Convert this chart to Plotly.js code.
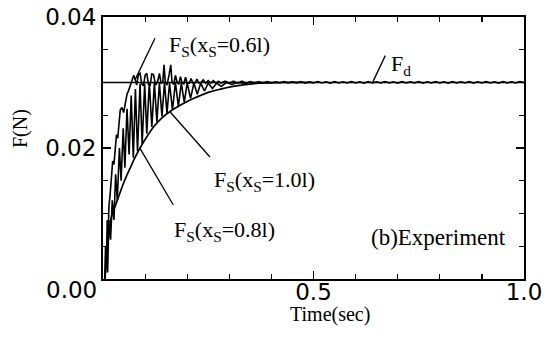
<!DOCTYPE html>
<html>
<head>
<meta charset="utf-8">
<script src="https://cdn.plot.ly/plotly-3.0.1.min.js"></script>
<style>html,body{margin:0;padding:0;background:#fff;}#chart{width:546px;height:338px;}</style>
</head>
<body>
<div id="chart"></div>
<script>
// Desired force F_d
const timeFd = [0, 1.0];
const forceFd = [0.03, 0.03];

// F_S(x_S = 1.0 l)
const time10 = [0.005,0.008,0.012,0.017,0.022,0.028,0.035,0.040,0.048,0.055,0.065,0.075,0.088,0.10,0.12,0.14,0.16,0.18,0.20,0.22,0.25,0.28,0.30,0.33,0.37,0.42,0.50];
const force10 = [0.0005,0.003,0.006,0.0085,0.0100,0.0110,0.0122,0.0131,0.0145,0.0156,0.0170,0.0184,0.0200,0.0213,0.0232,0.0246,0.0256,0.0264,0.0271,0.0277,0.0285,0.0290,0.0293,0.0296,0.0299,0.0300,0.0300];

// F_S(x_S = 0.8 l)
const time08 = [0.005,0.008,0.011,0.014,0.018,0.022,0.026,0.030,0.034,0.039,0.043,0.048,0.052,0.057,0.062,0.067,0.072,0.077,0.082,0.088,0.093,0.099,0.104,0.110,0.116,0.122,0.128,0.134,0.140,0.146,0.152,0.158,0.165,0.172,0.179,0.186,0.193,0.200,0.208,0.216,0.224,0.232,0.241,0.250,0.260,0.270,0.281,0.293,0.306,0.320,0.335,0.350,0.400];
const force08 = [0.000,0.004,0.001,0.009,0.006,0.012,0.009,0.016,0.012,0.020,0.015,0.023,0.017,0.026,0.019,0.028,0.0185,0.029,0.0195,0.0298,0.0205,0.0298,0.0222,0.0300,0.0232,0.0299,0.0240,0.0299,0.0248,0.0300,0.0253,0.0299,0.0258,0.0300,0.0264,0.0299,0.0270,0.0299,0.0276,0.0299,0.0282,0.0299,0.0287,0.0299,0.0291,0.0299,0.0294,0.0300,0.0297,0.0300,0.0299,0.0300,0.0300];

// F_S(x_S = 0.6 l)
const time06 = [0.004,0.006,0.008,0.010,0.012,0.014,0.017,0.020,0.023,0.026,0.029,0.032,0.035,0.038,0.041,0.045,0.049,0.053,0.057,0.061,0.065,0.069,0.073,0.077,0.080,0.084,0.088,0.092,0.096,0.100,0.104,0.108,0.112,0.116,0.120,0.125,0.130,0.134,0.138,0.142,0.145,0.148,0.152,0.157,0.161,0.164,0.168,0.172,0.176,0.180,0.184,0.188,0.192,0.196,0.200,0.205,0.209,0.214,0.219,0.223,0.228,0.233,0.238,0.244,0.250,0.256,0.262,0.268,0.274,0.280,
  0.29,0.30,0.31,0.32,0.33,0.34,0.35,0.36,0.37,0.38,0.39,0.40,0.41,0.42,0.43,0.44,0.45,0.46,0.47,0.48,0.49,0.50,0.51,0.52,0.53,0.54,0.55,0.56,0.57,0.58,0.59,0.60,0.61,0.62,0.63,0.64,0.65,0.66,0.67,0.68,0.69,0.70,0.71,0.72,0.73,0.74,0.75,0.76,0.77,0.78,0.79,0.80,0.81,0.82,0.83,0.84,0.85,0.86,0.87,0.88,0.89,0.90,0.91,0.92,0.93,0.94,0.95,0.96,0.97,0.98,0.99,1.00];
const force06 = [0.000,0.005,0.002,0.009,0.006,0.011,0.013,0.016,0.018,0.0175,0.020,0.022,0.0215,0.0245,0.0258,0.0262,0.0254,0.0268,0.0282,0.0288,0.0296,0.0303,0.0311,0.0303,0.0296,0.0312,0.0314,0.0298,0.0295,0.0311,0.0314,0.0297,0.0296,0.0313,0.0312,0.0296,0.0302,0.0314,0.0299,0.0300,0.0327,0.0300,0.0296,0.0312,0.0327,0.0300,0.0297,0.0311,0.0300,0.0298,0.0309,0.0299,0.0298,0.0308,0.0299,0.0299,0.0306,0.0299,0.0300,0.0305,0.0299,0.0300,0.0304,0.0299,0.0303,0.0299,0.0303,0.0299,0.0302,0.0299,
  0.0302,0.0299,0.0302,0.0299,0.0302,0.0299,0.03015,0.0299,0.03015,0.0299,
  0.03015,0.02992,0.0301,0.02992,0.03015,0.02992,0.0301,0.02992,0.03015,0.0299,
  0.0301,0.02992,0.03015,0.02992,0.0301,0.0299,0.03015,0.02992,0.0301,0.02992,
  0.03015,0.02992,0.0301,0.0299,0.03015,0.02992,0.0301,0.02992,0.03015,0.02992,
  0.0301,0.0299,0.03015,0.02992,0.0301,0.02992,0.03015,0.0299,0.0301,0.02992,
  0.03015,0.02992,0.0301,0.0299,0.03015,0.02992,0.0301,0.02992,0.03015,0.0299,
  0.0301,0.02992,0.03015,0.02992,0.0301,0.0299,0.03015,0.02992,0.0301,0.02992,
  0.03015,0.0300];

// Tick labels
const xTickVals = [0.5, 1.0];
const xTickText = ['0.5', '1.0'];
const yTickVals = [0.02, 0.04];
const yTickText = ['0.02', '0.04'];
const originLabel = '0.00';

// Curve labels
const labelTexts = ['F<sub>S</sub>(x<sub>S</sub>=0.6l)', 'F<sub>S</sub>(x<sub>S</sub>=1.0l)', 'F<sub>S</sub>(x<sub>S</sub>=0.8l)', 'F<sub>d</sub>', '(b)Experiment'];
const labelX = [0.152, 0.259, 0.164, 0.680, 0.632];
const labelY = [0.0356, 0.0150, 0.0073, 0.0327, 0.0064];
const labelSize = [22, 22, 22, 22, 23];
// Leader lines [x0, y0, x1, y1]
const leaders = [
  [0.1235, 0.03675, 0.076, 0.0304],
  [0.159, 0.02554, 0.254, 0.01863],
  [0.0879, 0.01995, 0.167, 0.0113],
  [0.641, 0.0301, 0.6705, 0.0341]
];

const lineStyle = {color: '#000', width: 1.6};
const traces = [
  {x: timeFd, y: forceFd, mode: 'lines', line: {color: '#000', width: 1.6}, name: 'Fd'},
  {x: time10, y: force10, mode: 'lines', line: {color: '#000', width: 1.7, shape: 'spline'}, name: 'Fs 1.0l'},
  {x: time08, y: force08, mode: 'lines', line: lineStyle, name: 'Fs 0.8l'},
  {x: time06, y: force06, mode: 'lines', line: lineStyle, name: 'Fs 0.6l'}
];

const serif = 'Liberation Serif, Times New Roman, serif';
const sans = 'DejaVu Sans, Arial, sans-serif';

const annotations = labelTexts.map((t, i) => ({
  x: labelX[i], y: labelY[i], xref: 'x', yref: 'y', text: t, showarrow: false,
  xanchor: 'left', yanchor: 'middle', font: {family: serif, size: labelSize[i], color: '#000'}
}));
annotations.push({x: -0.076, y: -0.042, xref: 'paper', yref: 'paper', text: originLabel, showarrow: false,
  xanchor: 'center', yanchor: 'middle', font: {family: sans, size: 23, color: '#000'}});
annotations.push({x: 0.539, y: -0.137, xref: 'paper', yref: 'paper', text: 'Time(sec)', showarrow: false,
  xanchor: 'center', yanchor: 'middle', font: {family: serif, size: 20, color: '#000'}});
annotations.push({x: -0.197, y: 0.5725, xref: 'paper', yref: 'paper', text: 'F(N)', showarrow: false, textangle: -90,
  xanchor: 'center', yanchor: 'middle', font: {family: serif, size: 20, color: '#000'}});

const shapes = leaders.map(l => ({type: 'line', xref: 'x', yref: 'y', x0: l[0], y0: l[1], x1: l[2], y1: l[3],
  line: {color: '#000', width: 1.3}}));

const layout = {
  width: 546, height: 338,
  margin: {l: 103, r: 22, t: 17, b: 59, pad: 0},
  paper_bgcolor: '#fff', plot_bgcolor: '#fff',
  showlegend: false,
  xaxis: {
    range: [0, 1], tickmode: 'array', tickvals: xTickVals, ticktext: xTickText,
    ticks: 'inside', ticklen: 8, tickwidth: 1.5, tickcolor: '#000', ticklabelstandoff: -9,
    minor: {tickmode: 'linear', tick0: 0, dtick: 0.1, ticks: 'inside', ticklen: 5, tickwidth: 1.2, tickcolor: '#000'},
    showline: true, linewidth: 2, linecolor: '#000', mirror: 'ticks',
    showgrid: false, zeroline: false, fixedrange: true,
    tickfont: {family: sans, size: 23, color: '#000'}
  },
  yaxis: {
    range: [0, 0.04], tickmode: 'array', tickvals: yTickVals, ticktext: yTickText,
    ticks: 'inside', ticklen: 8, tickwidth: 1.5, tickcolor: '#000',
    minor: {tickmode: 'linear', tick0: 0, dtick: 0.005, ticks: 'inside', ticklen: 5, tickwidth: 1.2, tickcolor: '#000'},
    showline: true, linewidth: 2, linecolor: '#000', mirror: 'ticks',
    showgrid: false, zeroline: false, fixedrange: true,
    tickfont: {family: sans, size: 23, color: '#000'}
  },
  annotations: annotations,
  shapes: shapes
};

Plotly.newPlot('chart', traces, layout, {staticPlot: true, displayModeBar: false});
</script>
</body>
</html>
